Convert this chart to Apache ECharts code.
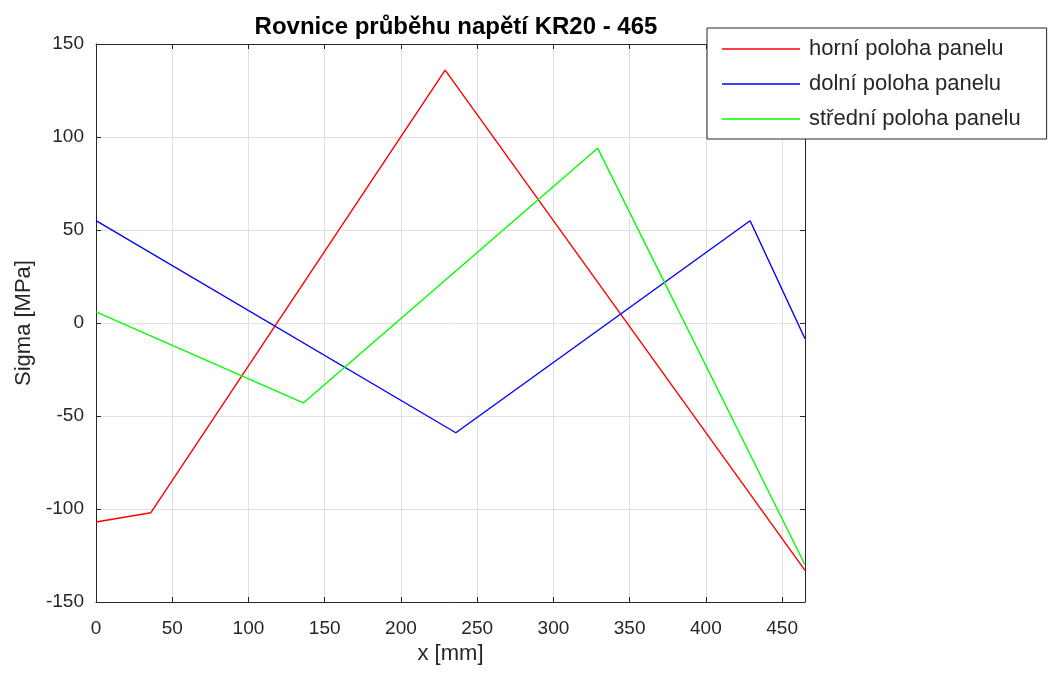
<!DOCTYPE html>
<html>
<head>
<meta charset="utf-8">
<script src="https://cdn.jsdelivr.net/npm/echarts@6/dist/echarts.min.js"></script>
<style>
  html, body { margin: 0; padding: 0; background: #fff; }
  #chart { width: 1049px; height: 673px; }
</style>
</head>
<body>
<div id="chart"></div>
<script>
// Stress profiles along the panel KR20 - 465 (x in mm, sigma in MPa)
const seriesNames = ['horní poloha panelu', 'dolní poloha panelu', 'střední poloha panelu'];
const seriesColors = ['#ff0000', '#0000ff', '#00ff00'];

const horniX = [0, 36, 229, 465];
const horniY = [-107, -102, 136, -133];

const dolniX = [0, 236, 429, 465];
const dolniY = [55, -59, 55, -8.5];

const stredniX = [0, 136, 329, 465];
const stredniY = [6, -43, 94, -130];

const xTicks = { min: 0, max: 465, interval: 50 };
const yTicks = { min: -150, max: 150, interval: 50 };

const pairs = (xs, ys) => xs.map((x, i) => [x, ys[i]]);
const seriesData = [pairs(horniX, horniY), pairs(dolniX, dolniY), pairs(stredniX, stredniY)];

const FONT = 'Liberation Sans, Arial, sans-serif';
const AXIS_COLOR = '#262626';
const GRID_COLOR = '#dfdfdf';

const chart = echarts.init(document.getElementById('chart'), null, { renderer: 'canvas' });

const baseAxis = {
  axisLine: { show: true, onZero: false, lineStyle: { color: AXIS_COLOR, width: 1 } },
  axisTick: { show: true, inside: true, length: 5, lineStyle: { color: AXIS_COLOR } },
  splitLine: { show: false },
  axisLabel: { show: false }
};

chart.setOption({
  backgroundColor: '#ffffff',
  animation: false,
  title: {
    text: 'Rovnice průběhu napětí KR20 - 465',
    left: 451, top: 10, textAlign: 'center',
    textStyle: { fontFamily: FONT, fontSize: 24, fontWeight: 'bold', color: '#000' }
  },
  legend: {
    left: 707, top: 28,
    orient: 'vertical',
    icon: 'rect',
    itemWidth: 78, itemHeight: 1.5,
    itemGap: 13,
    padding: [10, 26, 9, 15],
    backgroundColor: '#ffffff',
    borderColor: AXIS_COLOR, borderWidth: 1,
    textStyle: { fontFamily: FONT, fontSize: 22, color: '#262626', lineHeight: 20, padding: [0, 0, 0, 4] },
    data: seriesNames
  },
  grid: { left: 96, right: 244, top: 44, bottom: 71 },
  xAxis: [
    Object.assign({}, baseAxis, {
      type: 'value', position: 'bottom',
      min: xTicks.min, max: xTicks.max, interval: xTicks.interval,
      name: 'x [mm]', nameLocation: 'middle', nameGap: 39,
      nameTextStyle: { fontFamily: FONT, fontSize: 22, color: '#262626' },
      splitLine: { show: true, lineStyle: { color: GRID_COLOR, width: 1 } },
      axisLabel: { show: true, showMaxLabel: false, margin: 17, fontFamily: FONT, fontSize: 19, color: '#262626' }
    }),
    Object.assign({}, baseAxis, {
      type: 'value', position: 'top',
      min: xTicks.min, max: xTicks.max, interval: xTicks.interval
    })
  ],
  yAxis: [
    Object.assign({}, baseAxis, {
      type: 'value', position: 'left',
      min: yTicks.min, max: yTicks.max, interval: yTicks.interval,
      name: 'Sigma [MPa]', nameLocation: 'middle', nameGap: 56,
      nameTextStyle: { fontFamily: FONT, fontSize: 22, color: '#262626' },
      splitLine: { show: true, lineStyle: { color: GRID_COLOR, width: 1 } },
      axisLabel: { show: true, margin: 12, fontFamily: FONT, fontSize: 19, color: '#262626' }
    }),
    Object.assign({}, baseAxis, {
      type: 'value', position: 'right',
      min: yTicks.min, max: yTicks.max, interval: yTicks.interval
    })
  ],
  series: seriesNames.map((name, i) => ({
    name: name,
    type: 'line',
    data: seriesData[i],
    symbol: 'none',
    color: seriesColors[i],
    lineStyle: { color: seriesColors[i], width: 1.4 }
  }))
});
</script>
</body>
</html>
